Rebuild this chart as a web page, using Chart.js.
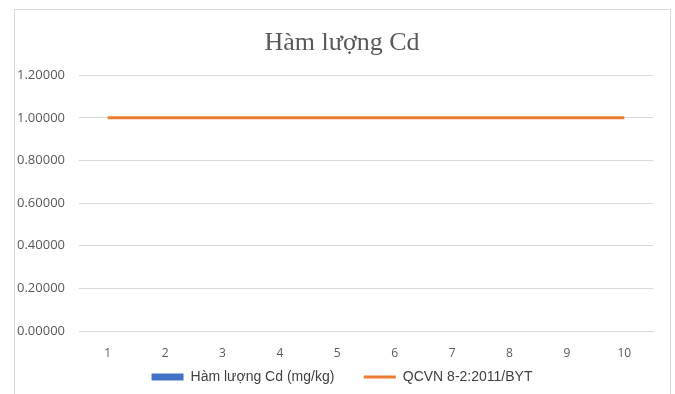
<!DOCTYPE html>
<html>
<head>
<meta charset="utf-8">
<script src="https://cdn.jsdelivr.net/npm/chart.js@4"></script>
<style>
  html, body { margin: 0; padding: 0; background: #ffffff; }
  #wrap { width: 675px; height: 394px; position: relative; }
</style>
</head>
<body>
<div id="wrap"><canvas id="c" width="675" height="394"></canvas></div>
<script>
// Sample numbers along the x axis
const categories = ['1', '2', '3', '4', '5', '6', '7', '8', '9', '10'];
// Measured cadmium content (mg/kg) per sample
const cdValues = [0, 0, 0, 0, 0, 0, 0, 0, 0, 0];
// Regulatory limit QCVN 8-2:2011/BYT (mg/kg)
const limitValues = [1, 1, 1, 1, 1, 1, 1, 1, 1, 1];
// Y axis range
const yMin = 0;
const yMax = 1.2;
const yStep = 0.2;

const gridColor = '#d9d9d9';
const textColor = '#595959';
const barColor = '#4472C4';
const lineColor = '#ED7D31';

// Light outer frame around the chart object
const framePlugin = {
  id: 'frame',
  beforeDraw(chart) {
    const ctx = chart.ctx;
    ctx.save();
    ctx.strokeStyle = '#d9d9d9';
    ctx.lineWidth = 1;
    ctx.strokeRect(14.5, 9.5, 656, 400);
    ctx.restore();
  }
};

new Chart(document.getElementById('c'), {
  type: 'bar',
  data: {
    labels: categories,
    datasets: [
      {
        type: 'bar',
        label: 'Hàm lượng Cd (mg/kg)',
        data: cdValues,
        backgroundColor: barColor,
        borderWidth: 0,
        order: 2
      },
      {
        type: 'line',
        label: 'QCVN 8-2:2011/BYT',
        data: limitValues,
        borderColor: lineColor,
        backgroundColor: lineColor,
        borderWidth: 3,
        pointRadius: 0,
        tension: 0,
        order: 1
      }
    ]
  },
  options: {
    responsive: false,
    animation: false,
    devicePixelRatio: 1,
    layout: { padding: { left: 14, right: 5, top: 9, bottom: 0 } },
    plugins: {
      title: {
        display: true,
        text: 'Hàm lượng Cd',
        color: textColor,
        font: { family: '"Liberation Serif", "Times New Roman", serif', size: 26, weight: 'normal' },
        padding: { top: 19, bottom: 16 }
      },
      legend: {
        position: 'bottom',
        labels: {
          color: '#404040',
          font: { family: '"Liberation Sans", Arial, sans-serif', size: 14 },
          usePointStyle: true,
          pointStyleWidth: 32,
          boxHeight: 7,
          padding: 10,
          sort: (a, b) => a.datasetIndex - b.datasetIndex,
          generateLabels(chart) {
            const items = Chart.defaults.plugins.legend.labels.generateLabels(chart);
            items.forEach((it) => {
              if (it.datasetIndex === 0) {
                it.pointStyle = 'rect'; it.lineWidth = 0; it.strokeStyle = barColor; it.fillStyle = barColor;
                // widen the gap before the next legend entry
                it.text = it.text + '     ';
              } else {
                it.pointStyle = 'line'; it.lineWidth = 3; it.strokeStyle = lineColor;
              }
            });
            return items;
          }
        }
      },
      tooltip: { enabled: false }
    },
    scales: {
      x: {
        offset: true,
        grid: { display: false, drawTicks: false },
        border: { display: true, color: gridColor },
        afterFit(scale) { scale.height = 29; },
        ticks: {
          color: textColor,
          font: { family: '"Open Sans", sans-serif', size: 12 },
          padding: 15
        }
      },
      y: {
        min: yMin,
        max: yMax,
        grid: { color: gridColor, drawTicks: false },
        border: { display: false },
        afterFit(scale) { scale.width = 65; },
        ticks: {
          stepSize: yStep,
          color: textColor,
          font: { family: '"Open Sans", sans-serif', size: 13 },
          padding: 14,
          callback(v) { return Number(v).toFixed(5); }
        }
      },
      // Empty right-hand margin inside the frame
      yRight: {
        position: 'right',
        min: yMin,
        max: yMax,
        grid: { display: false, drawTicks: false },
        border: { display: false },
        ticks: { display: false },
        afterFit(scale) { scale.width = 17; }
      }
    }
  },
  plugins: [framePlugin]
});
</script>
</body>
</html>
